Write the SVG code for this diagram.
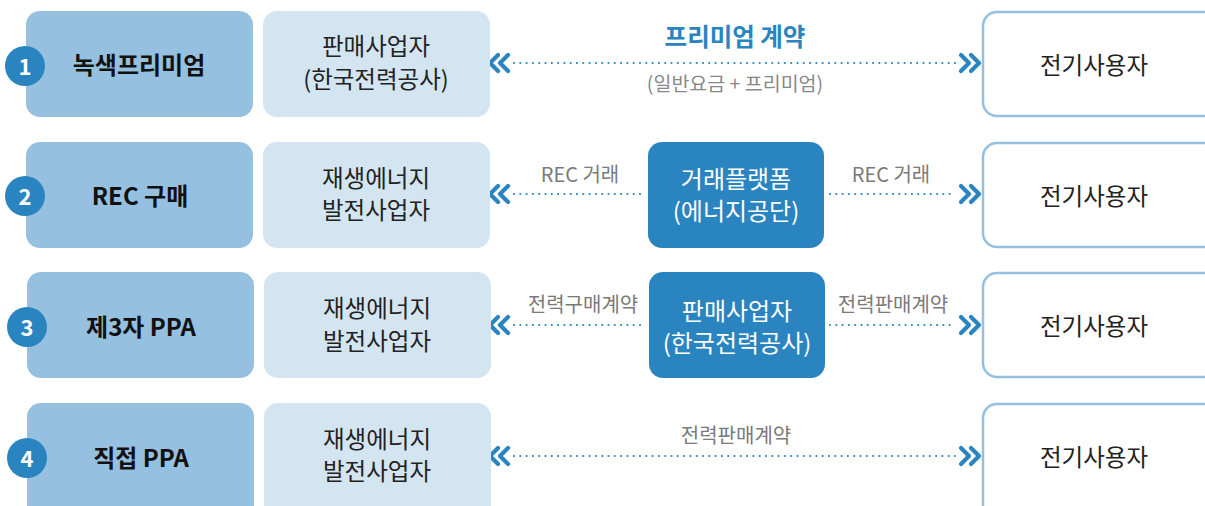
<svg xmlns="http://www.w3.org/2000/svg" width="1205" height="506" viewBox="0 0 1205 506">
<style>
text{font-family:"Noto Sans CJK KR","Noto Sans",sans-serif;text-anchor:middle;dominant-baseline:central}
.cat{fill:#95c0e0}
.sell{fill:#d4e5f2}
.mid{fill:#2a84c0}
.user{fill:#fff;stroke:#93c0e2;stroke-width:2.5}
.num{fill:#2a84c0}
.numt{fill:#fff;font-size:22px;font-weight:700}
.catt{fill:#111;font-size:24px;font-weight:700}
.t{fill:#222;font-size:23.5px}
.midt{fill:#fff;font-size:24px}
.lbl{fill:#7a7a7a;font-size:20px}
.dot{stroke:#2a84c0;stroke-width:2.2;stroke-dasharray:0 6.3;stroke-linecap:round;fill:none}
.chev{stroke:#2a84c0;stroke-width:4.2;stroke-linecap:round;stroke-linejoin:round;fill:none}
</style>
<defs>
<path id="cl" class="chev" d="M9,-8 L1,0 L9,8 M19,-8 L11,0 L19,8"/>
<path id="cr" class="chev" d="M-9,-8 L-1,0 L-9,8 M-19,-8 L-11,0 L-19,8"/>
</defs>
<g id="connectors">
<line class="dot" x1="514" y1="63" x2="956" y2="63"/>
<use href="#cl" x="489" y="63"/><use href="#cr" x="980" y="63"/>
<line class="dot" x1="514" y1="194" x2="645" y2="194"/>
<line class="dot" x1="830" y1="194" x2="956" y2="194"/>
<use href="#cl" x="489" y="194"/><use href="#cr" x="980" y="194"/>
<line class="dot" x1="514" y1="325" x2="645" y2="325"/>
<line class="dot" x1="830" y1="325" x2="956" y2="325"/>
<use href="#cl" x="489" y="325"/><use href="#cr" x="980" y="325"/>
<line class="dot" x1="514" y1="456" x2="956" y2="456"/>
<use href="#cl" x="489" y="456"/><use href="#cr" x="980" y="456"/>
<text x="735" y="35" style="fill:#2a84c0;font-size:24.5px;font-weight:700">프리미엄 계약</text>
<text x="735" y="82" style="fill:#888;font-size:19.5px">(일반요금 + 프리미엄)</text>
<text class="lbl" x="580" y="173">REC 거래</text>
<text class="lbl" x="891" y="173">REC 거래</text>
<text class="lbl" x="583" y="303">전력구매계약</text>
<text class="lbl" x="893" y="303">전력판매계약</text>
<text class="lbl" x="736" y="434">전력판매계약</text>
</g>
<g id="row1">
<rect class="cat" x="26" y="11" width="227" height="106" rx="14"/>
<circle class="num" cx="25" cy="66" r="20"/><text class="numt" x="25" y="65">1</text>
<text class="catt" x="139" y="63">녹색프리미엄</text>
<rect class="sell" x="263" y="11" width="227" height="106" rx="14"/>
<text class="t" x="376" y="45">판매사업자</text><text class="t" x="376" y="78">(한국전력공사)</text>
<rect class="user" x="983" y="12" width="240" height="104" rx="14"/>
<text class="t" x="1094" y="64">전기사용자</text>
</g>
<g id="row2">
<rect class="cat" x="26" y="142" width="227" height="106" rx="14"/>
<circle class="num" cx="25" cy="196" r="20"/><text class="numt" x="25" y="195">2</text>
<text class="catt" x="140" y="194">REC 구매</text>
<rect class="sell" x="263" y="142" width="227" height="106" rx="14"/>
<text class="t" x="376" y="177">재생에너지</text><text class="t" x="376" y="209">발전사업자</text>
<rect class="mid" x="648" y="142" width="176" height="106" rx="14"/>
<text class="midt" x="736" y="177">거래플랫폼</text><text class="midt" x="736" y="209">(에너지공단)</text>
<rect class="user" x="983" y="143" width="240" height="104" rx="14"/>
<text class="t" x="1094" y="195">전기사용자</text>
</g>
<g id="row3">
<rect class="cat" x="27" y="272" width="227" height="106" rx="14"/>
<circle class="num" cx="27" cy="327" r="20"/><text class="numt" x="27" y="326">3</text>
<text class="catt" x="141" y="325">제3자 PPA</text>
<rect class="sell" x="264" y="272" width="227" height="106" rx="14"/>
<text class="t" x="377" y="307">재생에너지</text><text class="t" x="377" y="340">발전사업자</text>
<rect class="mid" x="649" y="272" width="176" height="106" rx="14"/>
<text class="midt" x="737" y="309">판매사업자</text><text class="midt" x="737" y="341">(한국전력공사)</text>
<rect class="user" x="983" y="273" width="240" height="104" rx="14"/>
<text class="t" x="1094" y="325">전기사용자</text>
</g>
<g id="row4">
<rect class="cat" x="27" y="403" width="227" height="120" rx="14"/>
<circle class="num" cx="27" cy="458" r="20"/><text class="numt" x="27" y="457">4</text>
<text class="catt" x="141" y="456">직접 PPA</text>
<rect class="sell" x="264" y="403" width="227" height="120" rx="14"/>
<text class="t" x="377" y="438">재생에너지</text><text class="t" x="377" y="470">발전사업자</text>
<rect class="user" x="983" y="404" width="240" height="120" rx="14"/>
<text class="t" x="1094" y="456">전기사용자</text>
</g>
</svg>
